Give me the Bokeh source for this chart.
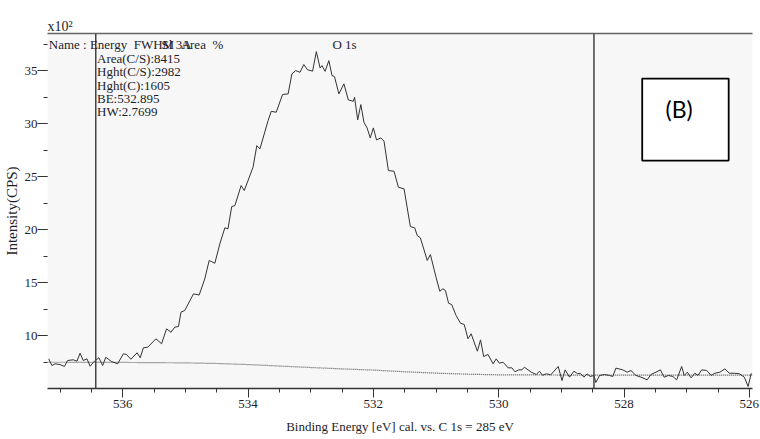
from bokeh.plotting import figure
from bokeh.models import Range1d, FixedTicker, LinearAxis, Span, Label, BoxAnnotation
from bokeh.embed import file_html
from bokeh.resources import INLINE

# ---- data (binding energy in eV, intensity in CPS x10^2) ----
be = [537.18, 537.13, 537.08, 537.00, 536.93, 536.88, 536.79, 536.73, 536.68, 536.63,
      536.57, 536.52, 536.45, 536.38, 536.32, 536.27, 536.18, 536.08, 535.99, 535.94,
      535.87, 535.77, 535.72, 535.67, 535.60, 535.47, 535.38, 535.30, 535.23, 535.17,
      535.11, 535.07, 535.01, 534.87, 534.78, 534.69, 534.62, 534.53, 534.45, 534.37,
      534.32, 534.26, 534.21, 534.11, 534.06, 533.92, 533.86, 533.81, 533.68, 533.63,
      533.55, 533.45, 533.36, 533.30, 533.24, 533.17, 533.11, 533.05, 532.97, 532.91,
      532.85, 532.82, 532.77, 532.71, 532.66, 532.62, 532.55, 532.47, 532.40, 532.32,
      532.30, 532.25, 532.20, 532.15, 532.10, 532.05, 532.00, 531.95, 531.88, 531.83,
      531.76, 531.67, 531.60, 531.51, 531.41, 531.34, 531.30, 531.25, 531.14, 531.09,
      531.00, 530.94, 530.89, 530.85, 530.80, 530.75, 530.68, 530.61, 530.55, 530.49,
      530.44, 530.34, 530.29, 530.24, 530.17, 530.09, 530.04, 529.99, 529.93, 529.85,
      529.79, 529.74, 529.68, 529.63, 529.59, 529.48, 529.40, 529.35, 529.30, 529.24,
      529.17, 529.05, 528.99, 528.94, 528.87, 528.80, 528.74, 528.70, 528.64, 528.59,
      528.54, 528.48, 528.45, 528.39, 528.31, 528.23, 528.18, 528.13, 528.02, 527.95,
      527.89, 527.81, 527.73, 527.63, 527.57, 527.49, 527.42, 527.36, 527.29, 527.22,
      527.16, 527.08, 527.04, 526.99, 526.93, 526.87, 526.82, 526.76, 526.68, 526.61,
      526.55, 526.47, 526.39, 526.32, 526.24, 526.16, 526.08, 526.02, 525.97]
cps = [7.80, 7.17, 7.33, 7.26, 7.08, 7.64, 7.71, 7.58, 8.33, 7.64,
       7.80, 7.10, 7.58, 7.90, 7.17, 7.95, 7.55, 7.33, 8.27, 8.21,
       7.76, 8.37, 7.90, 8.84, 8.90, 9.69, 9.22, 10.63, 10.31, 10.78,
       10.85, 12.20, 12.36, 13.93, 13.82, 15.35, 17.08, 16.82, 18.65, 20.16,
       20.07, 22.17, 22.26, 24.15, 23.68, 25.88, 27.92, 27.61, 30.28, 31.16,
       31.07, 32.74, 32.80, 34.69, 35.00, 34.84, 35.57, 35.07, 34.95, 36.79,
       35.24, 35.47, 34.93, 35.94, 34.53, 34.43, 32.80, 33.75, 32.24, 32.10,
       32.48, 30.35, 31.79, 30.12, 29.59, 28.65, 29.59, 28.46, 28.65, 28.33,
       25.57, 25.50, 23.99, 23.84, 20.28, 20.16, 19.43, 19.22, 17.08, 17.64,
       15.50, 14.18, 14.41, 14.25, 13.05, 12.92, 11.89, 11.16, 11.04, 9.69,
       10.16, 8.52, 9.59, 8.02, 8.21, 7.33, 7.80, 7.39, 7.48, 6.95,
       6.95, 6.58, 6.76, 6.76, 7.01, 6.54, 6.32, 6.63, 6.25, 6.39,
       6.29, 7.08, 5.75, 6.76, 6.07, 6.63, 6.39, 6.44, 6.07, 6.39,
       6.13, 6.23, 5.57, 6.23, 6.32, 6.23, 6.13, 6.92, 6.76, 6.54,
       6.70, 6.23, 6.07, 5.82, 6.32, 6.54, 6.76, 6.07, 6.23, 6.13,
       5.82, 7.08, 6.23, 6.54, 6.01, 6.44, 6.23, 6.76, 6.70, 6.23,
       6.44, 6.54, 6.86, 6.44, 6.44, 6.39, 6.07, 5.19, 6.44]

bg_be = [537.20, 536.0, 535.0, 534.5, 534.0, 533.5, 533.0, 532.5, 532.0,
         531.5, 531.0, 530.5, 530.0, 529.0, 525.95]
bg_cps = [7.48, 7.46, 7.42, 7.36, 7.26, 7.12, 6.98, 6.85, 6.74,
          6.58, 6.45, 6.35, 6.29, 6.27, 6.27]

region_limits = [536.43, 528.48]

x_major = [526, 528, 530, 532, 534, 536]
x_minor = [526 + 0.5 * i for i in range(23)]
y_major = [10, 15, 20, 25, 30, 35]
y_minor = [7.5 + 2.5 * i for i in range(13)]

peak_label = "O 1s"
NB = "\u00a0"
header_text = "Name : Energy" + NB * 2 + "FWHM" + NB * 2 + "Area" + NB * 2 + "%"
header_overlap = "Sl 3A"
info_lines = ["Area(C/S):8415", "Hght(C/S):2982", "Hght(C):1605", "BE:532.895", "HW:2.7699"]
panel_tag = "(B)"
multiplier = "x10\u00b2"

SERIF = "Liberation Serif"
TXT = "#1e1e2a"

p = figure(width=760, height=439, output_backend="svg", toolbar_location=None,
           x_range=Range1d(537.2, 525.95), y_range=Range1d(5, 38.5),
           min_border_left=46, min_border_right=8, min_border_top=33, min_border_bottom=51,
           title=multiplier)
p.background_fill_color = "#f7f7f7"
p.border_fill_color = "white"
p.outline_line_color = None
p.grid.visible = False

p.title.text_font = SERIF
p.title.text_font_size = "14px"
p.title.text_font_style = "normal"
p.title.text_color = TXT
p.title.align = "left"
p.title.offset = 0
p.title.standoff = 0

# x axis
xa = p.xaxis[0]
xa.ticker = FixedTicker(ticks=x_major, minor_ticks=x_minor)
xa.axis_label = "Binding Energy [eV] cal. vs. C 1s = 285 eV"
xa.axis_label_text_font = SERIF
xa.axis_label_text_font_style = "normal"
xa.axis_label_text_font_size = "13px"
xa.axis_label_text_color = TXT
xa.axis_label_standoff = 8
xa.major_label_text_font = SERIF
xa.major_label_text_font_size = "13px"
xa.major_label_text_color = TXT
xa.major_label_standoff = 2
xa.axis_line_color = "#333333"
xa.axis_line_width = 1.5
xa.major_tick_in = 0
xa.major_tick_out = 9
xa.minor_tick_in = 0
xa.minor_tick_out = 4
xa.major_tick_line_color = "#333333"
xa.minor_tick_line_color = "#333333"

# y axis
ya = p.yaxis[0]
ya.ticker = FixedTicker(ticks=y_major, minor_ticks=y_minor)
ya.axis_label = "Intensity(CPS)"
ya.axis_label_text_font = SERIF
ya.axis_label_text_font_style = "normal"
ya.axis_label_text_font_size = "15px"
ya.axis_label_text_color = TXT
ya.axis_label_standoff = 2
ya.major_label_text_font = SERIF
ya.major_label_text_font_size = "13px"
ya.major_label_text_color = TXT
ya.major_label_standoff = 0
ya.axis_line_color = None
ya.major_tick_in = 0
ya.major_tick_out = 10
ya.minor_tick_in = 0
ya.minor_tick_out = 4
ya.major_tick_line_color = "#333333"
ya.minor_tick_line_color = "#333333"

# top frame line
top = LinearAxis(ticker=FixedTicker(ticks=[]), axis_line_color="#666666", axis_line_width=1.5,
                 major_tick_line_color=None, minor_tick_line_color=None,
                 major_label_text_font_size="0px")
p.add_layout(top, "above")

# integration limits
for loc in region_limits:
    p.add_layout(Span(location=loc, dimension="height", line_color="#444444", line_width=1.5))

# background and spectrum
p.line(bg_be, bg_cps, line_color="#555555", line_width=1.2, line_dash="1 1")
p.line(be, cps, line_color="#333333", line_width=1)

# texts
p.add_layout(Label(x=537.18, y=37.45, text=header_text, text_font=SERIF, text_font_size="13px",
                   text_color=TXT, text_baseline="middle"))
p.add_layout(Label(x=535.38, y=37.45, text=header_overlap, text_font=SERIF, text_font_size="13px",
                   text_color=TXT, text_baseline="middle"))
for i, t in enumerate(info_lines):
    p.add_layout(Label(x=536.41, y=36.13 - 1.255 * i, text=t, text_font=SERIF,
                       text_font_size="13px", text_color=TXT, text_baseline="middle"))
p.add_layout(Label(x=532.46, y=37.45, text=peak_label, text_font=SERIF, text_font_size="13px",
                   text_color=TXT, text_baseline="middle", text_align="center"))

# (B) box
p.add_layout(BoxAnnotation(left=527.71, right=526.33, top=34.25, bottom=26.51,
                           fill_color="white", fill_alpha=1.0, line_color="black",
                           line_alpha=1.0, line_width=1.8))
p.add_layout(Label(x=527.12, y=31.42, text=panel_tag, text_font="Lato",
                   text_font_size="23px", text_color="black", text_baseline="middle",
                   text_align="center"))

open("out.html", "w").write(file_html(p, INLINE))
